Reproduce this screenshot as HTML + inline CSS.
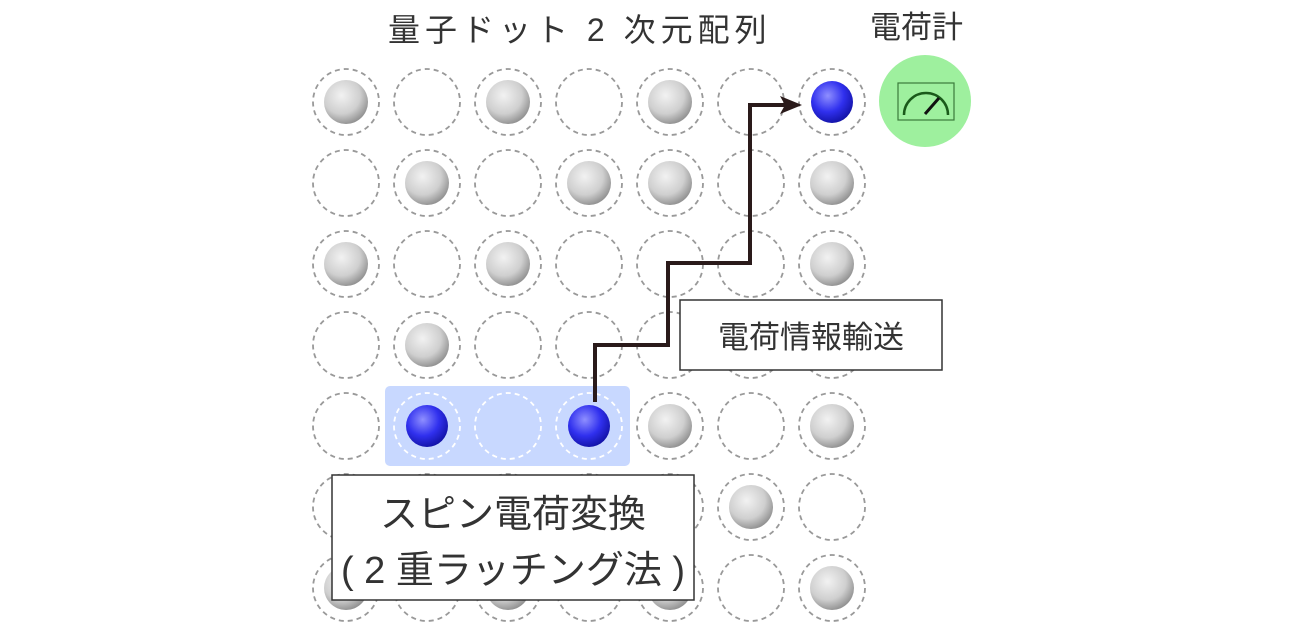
<!DOCTYPE html>
<html><head><meta charset="utf-8"><style>
body{margin:0;background:#fff;width:1300px;height:628px;overflow:hidden;font-family:"Liberation Sans","Noto Sans CJK JP",sans-serif}
</style></head><body>
<svg width="1300" height="628" viewBox="0 0 1300 628" xmlns="http://www.w3.org/2000/svg">
<defs>
<radialGradient id="g" cx="0.4" cy="0.35" r="0.7"><stop offset="0" stop-color="#f2f2f2"/><stop offset="0.6" stop-color="#cfcfcf"/><stop offset="1" stop-color="#8a8a8a"/></radialGradient>
<radialGradient id="b" cx="0.4" cy="0.35" r="0.7"><stop offset="0" stop-color="#8f8fff"/><stop offset="0.55" stop-color="#3030ee"/><stop offset="1" stop-color="#1010a0"/></radialGradient>
<circle id="d" r="33" fill="none" stroke="#999" stroke-width="1.8" stroke-dasharray="5,4"/>
<circle id="dw" r="33" fill="none" stroke="#fff" stroke-width="1.8" stroke-dasharray="5,4"/>
<g id="row"><use href="#d" x="346"/><use href="#d" x="427"/><use href="#d" x="508"/><use href="#d" x="589"/><use href="#d" x="670"/><use href="#d" x="751"/><use href="#d" x="832"/></g>
<circle id="G" r="22" fill="url(#g)"/>
<circle id="B" r="21" fill="url(#b)"/>
</defs>
<text x="388" y="41" font-size="32" letter-spacing="5" fill="#333" font-family="Liberation Sans,Noto Sans CJK JP,sans-serif">量子ドット 2 次元配列</text>
<text x="870" y="38" font-size="31" fill="#333" font-family="Liberation Sans,Noto Sans CJK JP,sans-serif">電荷計</text>
<rect x="385" y="386" width="245" height="80" rx="5" fill="#c8d8ff"/>
<use href="#row" y="102"/><use href="#row" y="183"/><use href="#row" y="264"/><use href="#row" y="345"/>
<use href="#d" x="346" y="426"/><use href="#dw" x="427" y="426"/><use href="#dw" x="508" y="426"/><use href="#dw" x="589" y="426"/><use href="#d" x="670" y="426"/><use href="#d" x="751" y="426"/><use href="#d" x="832" y="426"/>
<use href="#row" y="507"/><use href="#row" y="588"/>
<use href="#G" x="346" y="102"/><use href="#G" x="508" y="102"/><use href="#G" x="670" y="102"/><use href="#B" x="832" y="102"/>
<use href="#G" x="427" y="183"/><use href="#G" x="589" y="183"/><use href="#G" x="670" y="183"/><use href="#G" x="832" y="183"/>
<use href="#G" x="346" y="264"/><use href="#G" x="508" y="264"/><use href="#G" x="832" y="264"/>
<use href="#G" x="427" y="345"/><use href="#G" x="832" y="345"/>
<use href="#B" x="427" y="426"/><use href="#B" x="589" y="426"/><use href="#G" x="670" y="426"/><use href="#G" x="832" y="426"/>
<use href="#G" x="751" y="507"/>
<use href="#G" x="346" y="588"/><use href="#G" x="508" y="588"/><use href="#G" x="670" y="588"/><use href="#G" x="832" y="588"/>
<circle cx="925" cy="101" r="46" fill="#9ef09e"/>
<rect x="898" y="83" width="56" height="37" fill="none" stroke="#3a7a3a" stroke-width="1.2"/>
<path d="M904 115 A22 22 0 0 1 948 115" fill="none" stroke="#1a5a1a" stroke-width="2.5"/>
<line x1="925" y1="114" x2="939" y2="98" stroke="#111" stroke-width="3"/>
<polyline points="595,402 595,345 668,345 668,263 750,263 750,105 790,105" fill="none" stroke="#2a1a1a" stroke-width="4"/>
<polygon points="802,105 780,96 785,105 780,114" fill="#2a1a1a"/>
<rect x="680" y="300" width="262" height="70" fill="#fff" stroke="#333" stroke-width="1.5"/>
<text x="811" y="348" font-size="31" fill="#333" text-anchor="middle" font-family="Liberation Sans,Noto Sans CJK JP,sans-serif">電荷情報輸送</text>
<rect x="332" y="475" width="362" height="125" fill="#fff" stroke="#333" stroke-width="1.5"/>
<text x="513" y="527" font-size="38" fill="#333" text-anchor="middle" font-family="Liberation Sans,Noto Sans CJK JP,sans-serif">スピン電荷変換</text>
<text x="513" y="583" font-size="38" fill="#333" text-anchor="middle" font-family="Liberation Sans,Noto Sans CJK JP,sans-serif">( 2 重ラッチング法 )</text>
</svg>
</body></html>
